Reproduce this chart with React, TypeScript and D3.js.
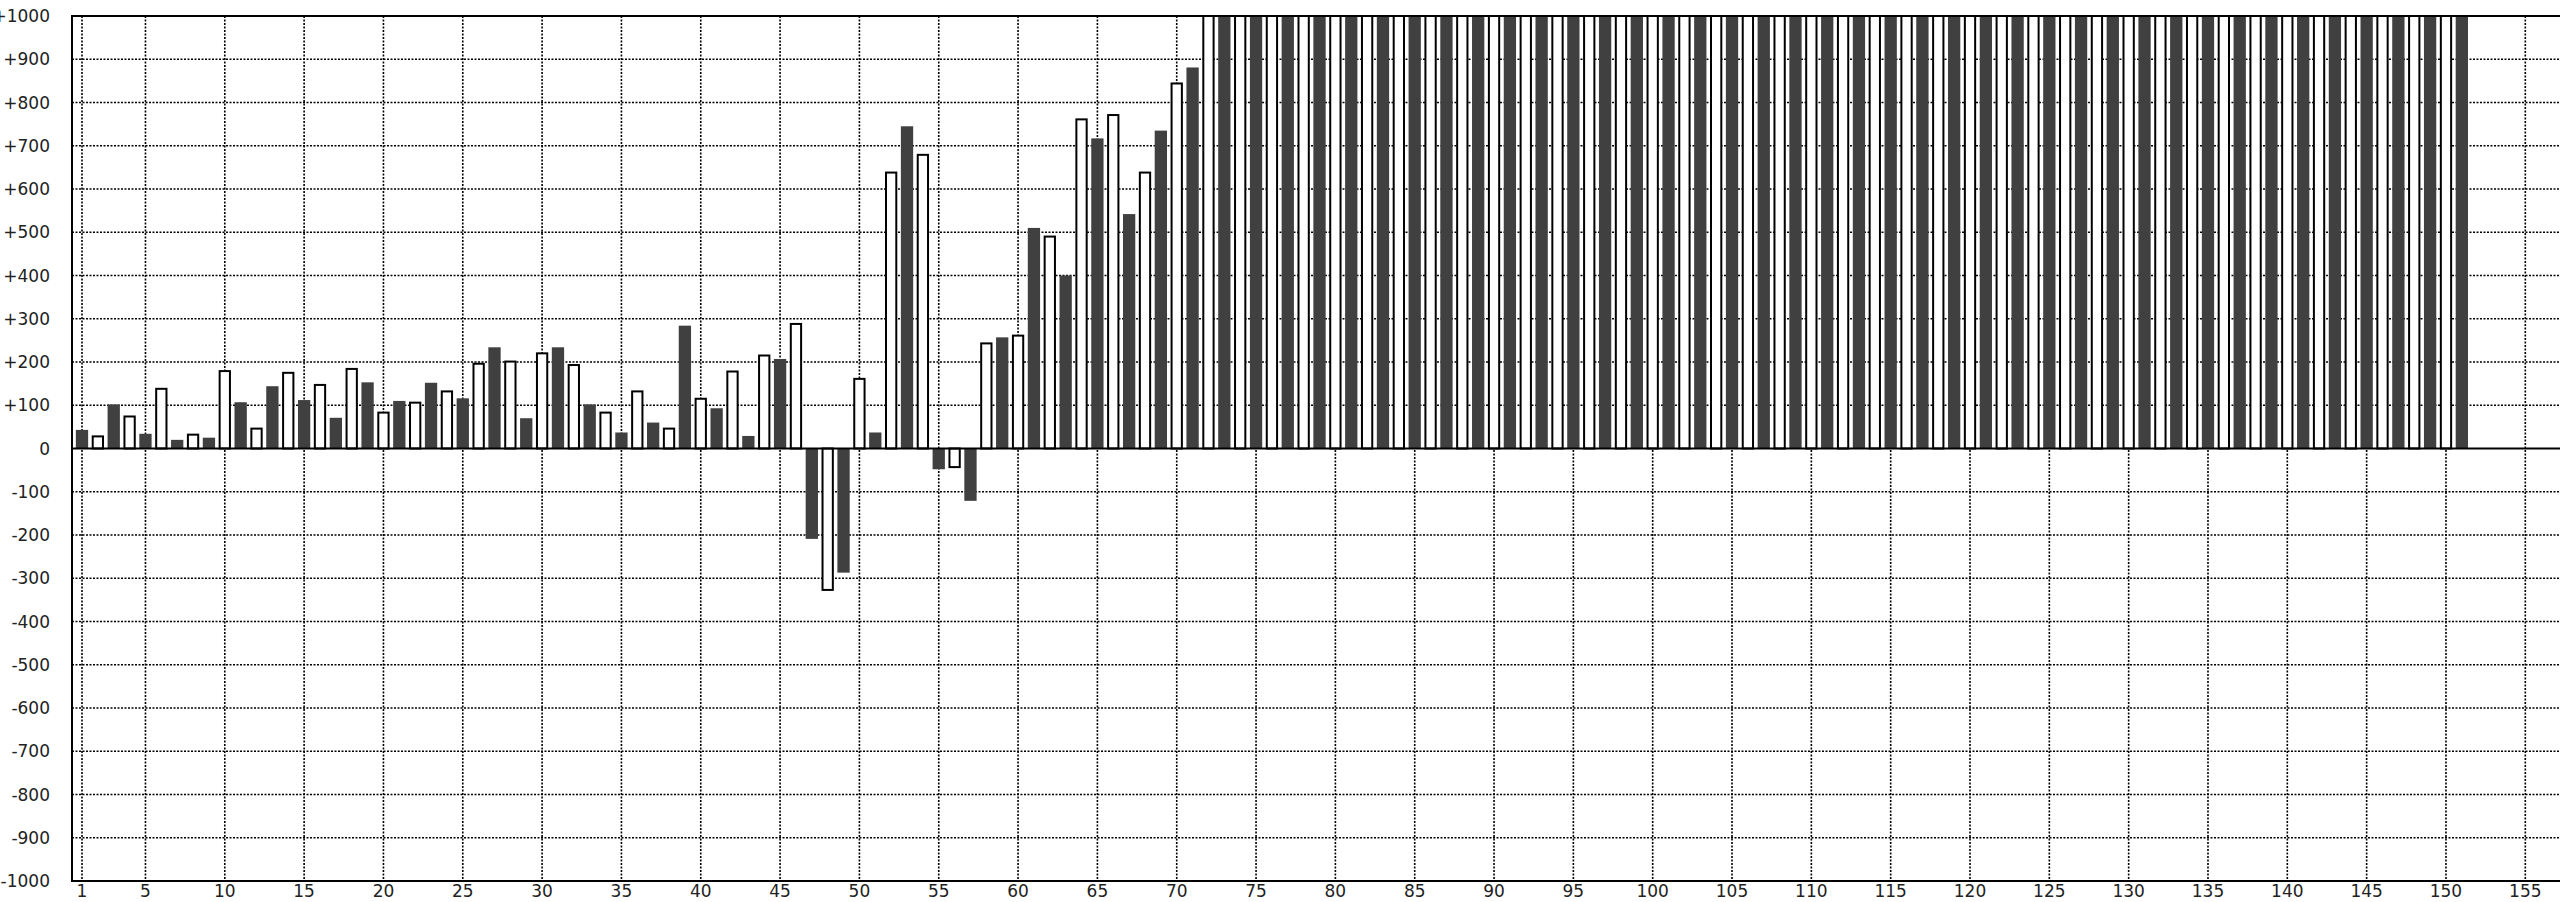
import React from "react";
import * as d3 from "d3";

// ---- data ----
const values: number[] = [
  43, 28, 102, 74, 34, 138, 20, 32, 25, 179,
  107, 46, 144, 175, 112, 147, 71, 184, 153, 83,
  110, 106, 152, 132, 116, 196, 234, 201, 70, 220,
  234, 193, 102, 83, 37, 132, 60, 46, 284, 115,
  93, 178, 29, 215, 207, 288, -209, -327, -287, 161,
  37, 638, 745, 679, -48, -43, -121, 243, 257, 261,
  510, 490, 400, 761, 717, 771, 542, 638, 735, 844,
  881, 1000, 1000, 1000, 1000, 1000, 1000, 1000, 1000, 1000,
  1000, 1000, 1000, 1000, 1000, 1000, 1000, 1000, 1000, 1000,
  1000, 1000, 1000, 1000, 1000, 1000, 1000, 1000, 1000, 1000,
  1000, 1000, 1000, 1000, 1000, 1000, 1000, 1000, 1000, 1000,
  1000, 1000, 1000, 1000, 1000, 1000, 1000, 1000, 1000, 1000,
  1000, 1000, 1000, 1000, 1000, 1000, 1000, 1000, 1000, 1000,
  1000, 1000, 1000, 1000, 1000, 1000, 1000, 1000, 1000, 1000,
  1000, 1000, 1000, 1000, 1000, 1000, 1000, 1000, 1000, 1000,
  1000,
];
const xTickValues: number[] = [1, 5, 10, 15, 20, 25, 30, 35, 40, 45, 50, 55, 60, 65, 70, 75, 80, 85, 90, 95, 100, 105, 110, 115, 120, 125, 130, 135, 140, 145, 150, 155];
const yTickValues: number[] = [-1000, -900, -800, -700, -600, -500, -400, -300, -200, -100, 0, 100, 200, 300, 400, 500, 600, 700, 800, 900, 1000];

// ---- layout ----
const W = 2560;
const H = 902;
const plotLeft = 72;
const plotRight = 2560;
const plotTop = 16;
const plotBottom = 881;

const x = d3.scaleLinear().domain([1, 155]).range([82, 2525.3]);
const y = d3.scaleLinear().domain([-1000, 1000]).range([plotBottom, plotTop]);
const step = x(2) - x(1);
const barW = step * 0.775;

const fmt = (v: number) => (v > 0 ? "+" + v : v < 0 ? "-" + Math.abs(v) : "0");

export default function App() {
  const font = "'DejaVu Sans', sans-serif";
  return (
    <svg
      width={W}
      height={H}
      style={{ position: "absolute", left: 0, top: 0, background: "#fff" }}
    >
      <defs>
        <clipPath id="plotClip">
          <rect x={plotLeft} y={plotTop} width={plotRight - plotLeft} height={plotBottom - plotTop} />
        </clipPath>
      </defs>
      <rect x={0} y={0} width={W} height={H} fill="#fff" />
      {/* grid */}
      <g stroke="#000" strokeWidth={1.6} strokeDasharray="2 1.5" fill="none">
        {yTickValues
          .filter((v) => v !== 0 && Math.abs(v) !== 1000)
          .map((v) => (
            <line key={"h" + v} x1={plotLeft} x2={plotRight} y1={y(v)} y2={y(v)} />
          ))}
        {xTickValues.map((v) => (
          <line key={"v" + v} x1={x(v)} x2={x(v)} y1={plotTop} y2={plotBottom} />
        ))}
      </g>
      {/* bars */}
      <g clipPath="url(#plotClip)">
        {values.map((v, i) => {
          const cat = i + 1;
          const cx = x(cat);
          const y0 = y(0);
          const y1 = y(Math.min(v, 1100));
          const top = Math.min(y0, y1);
          const h = Math.abs(y1 - y0);
          const dark = cat % 2 === 1;
          return dark ? (
            <rect key={i} x={cx - barW / 2} y={top} width={barW} height={h} fill="#404040" />
          ) : (
            <rect
              key={i}
              x={cx - barW / 2 + 1}
              y={top}
              width={barW - 2}
              height={h}
              fill="#fff"
              stroke="#000"
              strokeWidth={2}
            />
          );
        })}
      </g>
      {/* axes / frame */}
      <line x1={plotLeft} x2={plotRight} y1={y(0)} y2={y(0)} stroke="#000" strokeWidth={2} />
      <line x1={plotLeft} x2={plotRight} y1={plotTop} y2={plotTop} stroke="#000" strokeWidth={2} />
      <line x1={plotLeft} x2={plotRight} y1={plotBottom} y2={plotBottom} stroke="#000" strokeWidth={2} />
      <line x1={plotLeft} x2={plotLeft} y1={plotTop - 1} y2={plotBottom + 1} stroke="#000" strokeWidth={2} />
      {/* y labels */}
      <g fontFamily={font} fontSize={17} fill="#222" textAnchor="end">
        {yTickValues.map((v) => (
          <text key={"yl" + v} x={50} y={y(v)} dy="0.36em">
            {fmt(v)}
          </text>
        ))}
      </g>
      {/* x labels */}
      <g fontFamily={font} fontSize={17} fill="#222" textAnchor="middle">
        {xTickValues.map((v) => (
          <text key={"xl" + v} x={x(v)} y={897}>
            {v}
          </text>
        ))}
      </g>
    </svg>
  );
}
